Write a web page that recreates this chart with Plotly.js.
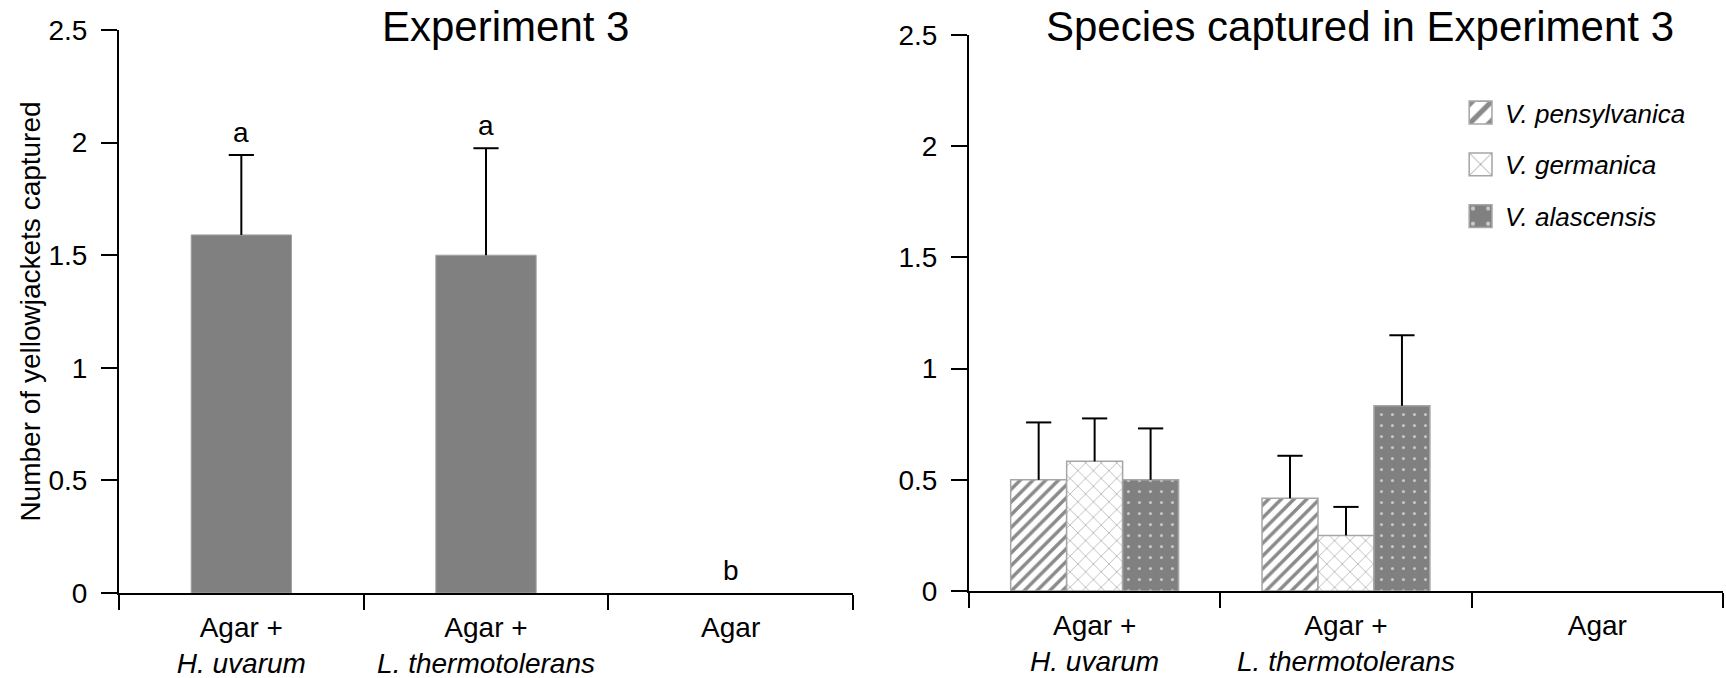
<!DOCTYPE html>
<html><head><meta charset="utf-8">
<script src="https://cdn.plot.ly/plotly-3.0.1.min.js"></script>
<style>html,body{margin:0;padding:0;background:#fff}#chart{width:1726px;height:678px}</style>
</head><body><div id="chart"></div>
<script>
// ---- data ----
const categories = ['Agar +<br><i>H. uvarum</i>', 'Agar +<br><i>L. thermotolerans</i>', 'Agar'];
const totalMean = [1.59, 1.50, 0];
const totalErr = [0.355, 0.475, null];
const totalLetters = ['a', 'a', 'b'];

const speciesNames = ['V. pensylvanica', 'V. germanica', 'V. alascensis'];
const pensMean = [0.50, 0.417, null];
const pensErr = [0.258, 0.191, null];
const germMean = [0.583, 0.25, null];
const germErr = [0.193, 0.128, null];
const alasMean = [0.50, 0.833, null];
const alasErr = [0.231, 0.317, null];

const yTicks = [0, 0.5, 1, 1.5, 2, 2.5];
const leftTitle = 'Experiment 3';
const rightTitle = 'Species captured in Experiment 3';
const yTitle = 'Number of yellowjackets captured';

// ---- styling ----
const FONT = 'Liberation Sans, Arial, Helvetica, sans-serif';
const topOf = (m, e) => m.map((v, i) => (e[i] == null || v == null) ? null : v + e[i]);

function stem(err) {
  return {type: 'data', symmetric: false, array: err, width: 0, thickness: 2, color: 'black'};
}
function hat(x, y, xa, ya, grp) {
  return {
    type: 'scatter', mode: 'markers', x: x, y: y, xaxis: xa, yaxis: ya,
    orientation: 'v', offsetgroup: grp, alignmentgroup: ya,
    marker: {symbol: 'line-ew', size: 18, color: 'black', line: {width: 2, color: 'black'}},
    showlegend: false, hoverinfo: 'skip', cliponaxis: false
  };
}

const speciesStyles = [
  {shape: '/', bgcolor: '#ffffff', fgcolor: '#8a8a8a', size: 9, solidity: 0.38},
  {shape: 'x', bgcolor: '#ffffff', fgcolor: '#a0a0a0', size: 11, solidity: 0.12},
  {shape: '.', bgcolor: '#808080', fgcolor: '#c9c9c9', size: 11, solidity: 0.06}
];
const speciesMeans = [pensMean, germMean, alasMean];
const speciesErrs = [pensErr, germErr, alasErr];

const traces = [];
// left chart
traces.push({
  type: 'bar', x: categories, y: totalMean, xaxis: 'x', yaxis: 'y', width: 0.41,
  marker: {color: '#808080', line: {color: '#a0a0a0', width: totalMean.map(v => v > 0 ? 1 : 0)}},
  error_y: stem(totalErr), showlegend: false, hoverinfo: 'skip'
});
traces.push(hat(categories, topOf(totalMean, totalErr), 'x', 'y', 'L0'));

// right chart
speciesNames.forEach((nm, k) => {
  const st = speciesStyles[k];
  traces.push({
    type: 'bar', name: '<i>' + nm + '</i>', x: categories, y: speciesMeans[k],
    xaxis: 'x2', yaxis: 'y2', legendgroup: 'g' + k, offsetgroup: 'R' + k,
    marker: {color: st.bgcolor, line: {color: '#a6a6a6', width: 1.5},
      pattern: {shape: st.shape, fillmode: 'replace', bgcolor: st.bgcolor, fgcolor: st.fgcolor, size: st.size, solidity: st.solidity}},
    error_y: stem(speciesErrs[k]), hoverinfo: 'skip'
  });
});
speciesNames.forEach((nm, k) => {
  traces.push(hat(categories, topOf(speciesMeans[k], speciesErrs[k]), 'x2', 'y2', 'R' + k));
});

const xBase = {
  type: 'category', range: [-0.5, 2.5], showline: true, linewidth: 2, linecolor: 'black',
  ticks: 'outside', tickson: 'boundaries', ticklen: 15, tickwidth: 2, tickcolor: 'black', ticklabelstandoff: 8,
  showgrid: false, zeroline: false, tickfont: {size: 28, family: FONT, color: 'black'}, fixedrange: true
};
const yBase = {
  range: [0, 2.5], tickvals: yTicks, showline: true, linewidth: 2, linecolor: 'black',
  ticks: 'outside', ticklen: 16, tickwidth: 2, tickcolor: 'black', ticklabelstandoff: 8,
  showgrid: false, zeroline: false, tickfont: {size: 28, family: FONT, color: 'black'}, fixedrange: true
};

const annotations = [
  {xref: 'x domain', yref: 'paper', x: 0.527, y: 1.0, yshift: 4, text: leftTitle, showarrow: false,
   font: {size: 42, family: FONT, color: 'black'}, xanchor: 'center', yanchor: 'middle'},
  {xref: 'x2 domain', yref: 'paper', x: 0.519, y: 1.0, yshift: 4, text: rightTitle, showarrow: false,
   font: {size: 42, family: FONT, color: 'black'}, xanchor: 'center', yanchor: 'middle'}
];
totalLetters.forEach((t, i) => {
  annotations.push({xref: 'x', yref: 'y', x: categories[i], y: totalMean[i] + (totalErr[i] || 0),
    text: t, showarrow: false, xanchor: 'center', yanchor: 'bottom', yshift: 5,
    font: {size: 28, family: FONT, color: 'black'}});
});

const layout = {
  width: 1726, height: 678,
  margin: {l: 119, r: 3, t: 30, b: 85},
  paper_bgcolor: 'white', plot_bgcolor: 'white',
  font: {family: FONT, size: 28, color: 'black'},
  barmode: 'group', bargap: 0.332, bargroupgap: 0,
  scattermode: 'group',
  xaxis: Object.assign({}, xBase, {domain: [0, 0.4576], anchor: 'y'}),
  yaxis: Object.assign({}, yBase, {domain: [0, 1], anchor: 'x',
    title: {text: yTitle, font: {size: 28, family: FONT, color: 'black'}, standoff: 0}}),
  xaxis2: Object.assign({}, xBase, {domain: [0.5299, 1], anchor: 'y2'}),
  yaxis2: Object.assign({}, yBase, {domain: [0.0036, 0.991], anchor: 'x2'}),
  showlegend: true,
  legend: {x: 0.8392, y: 0.895, xanchor: 'left', yanchor: 'top', font: {size: 26, family: FONT, color: 'black'},
    traceorder: 'grouped', tracegroupgap: 15, bgcolor: 'rgba(0,0,0,0)'},
  annotations: annotations
};

Plotly.newPlot('chart', traces, layout, {displayModeBar: false, staticPlot: true}).then(gd => {
  // enlarge the legend swatches to the size used in the original figure
  gd.querySelectorAll('.legend .legendpoints path').forEach(p => {
    p.setAttribute('transform', 'translate(15.5,0) scale(1.9)');
    p.style.strokeWidth = '0.8px';
  });
});
</script>
</body></html>
